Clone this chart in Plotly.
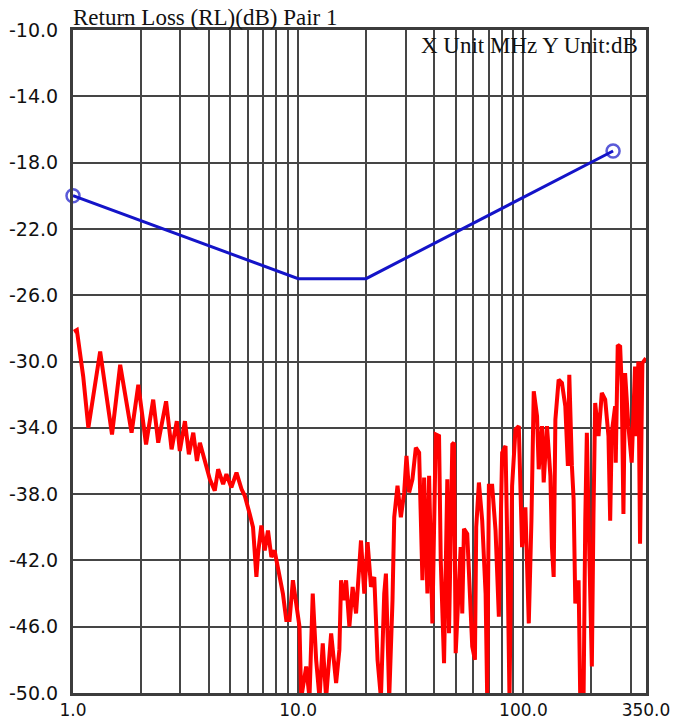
import plotly.graph_objects as go

# ---- data ----
limit_freq = [1.0, 10.0, 20.0, 250.0]
limit_db = [-20.0, -25.0, -25.0, -17.3]

red_freq = [
    1.01, 1.04, 1.11, 1.17, 1.32, 1.49, 1.62, 1.82, 1.95, 2.11,
    2.27, 2.39, 2.59, 2.74, 2.89, 2.98, 3.14, 3.27, 3.42, 3.55,
    3.66, 3.92, 4.05, 4.26, 4.41, 4.64, 4.80, 5.05, 5.32, 5.60,
    5.79, 6.09, 6.30, 6.52, 6.63, 6.86, 7.10, 7.34, 7.60, 7.85,
    8.12, 8.55, 8.85, 9.15, 9.47, 9.80, 10.13, 10.31, 10.85, 11.22,
    11.60, 12.01, 12.43, 12.85, 13.30, 14.00, 14.73, 15.23, 15.50, 16.03,
    16.31, 16.87, 17.44, 18.06, 19.00, 19.65, 20.32, 21.04, 21.76, 22.50,
    23.29, 24.09, 24.51, 25.35, 26.22, 26.68, 27.59, 28.56, 29.54, 30.24,
    31.08, 32.15, 33.28, 34.42, 35.60, 36.22, 37.46, 38.11, 39.41, 40.80,
    42.19, 42.93, 44.40, 45.91, 46.72, 48.32, 49.16, 50.02, 52.63, 53.49,
    54.43, 56.29, 57.28, 59.24, 60.89, 61.70, 63.42, 65.59, 67.91, 69.02,
    70.24, 72.62, 75.18, 77.76, 80.42, 83.26, 84.61, 86.70, 89.04, 92.18,
    95.33, 98.58, 102.0, 105.6, 108.5, 111.1, 114.9, 116.9, 120.9, 123.0,
    127.2, 131.7, 133.8, 136.2, 138.6, 143.3, 148.2, 153.4, 157.5, 159.8,
    164.1, 167.0, 169.9, 175.7, 178.7, 184.9, 188.1, 191.2, 194.5, 201.2,
    204.6, 208.2, 215.4, 222.8, 230.6, 238.5, 242.7, 246.6, 255.3, 256.9,
    262.2, 268.7, 273.1, 277.9, 282.7, 292.4, 302.4, 313.0, 318.2, 323.7,
    329.4, 337.3, 350.0,
]
red_db = [
    -28.2, -28.1, -30.9, -34.0, -29.4, -34.4, -30.2, -34.3, -31.4, -35.0,
    -32.3, -34.9, -32.4, -35.3, -33.6, -35.4, -33.6, -35.6, -34.3, -36.0,
    -34.9, -36.3, -37.1, -37.8, -36.5, -37.4, -36.8, -37.6, -36.7, -37.7,
    -38.1, -39.2, -40.0, -43.0, -41.6, -39.9, -41.4, -40.2, -41.8, -41.4,
    -42.4, -44.0, -45.6, -45.6, -43.2, -44.6, -46.0, -50.3, -48.4, -50.3,
    -44.0, -48.0, -50.3, -47.0, -50.3, -46.4, -49.4, -47.4, -43.2, -44.4,
    -43.2, -46.0, -43.6, -45.2, -40.8, -44.0, -40.9, -43.6, -43.0, -48.0,
    -50.3, -44.0, -42.8, -50.3, -44.4, -39.4, -37.5, -39.4, -37.9, -35.7,
    -37.9, -37.1, -35.2, -35.5, -43.2, -37.0, -44.0, -36.9, -45.8, -34.4,
    -34.5, -42.0, -48.2, -37.1, -46.4, -35.0, -34.9, -47.6, -41.2, -45.2,
    -40.1, -40.4, -43.0, -47.2, -48.0, -40.0, -37.3, -39.6, -44.0, -50.3,
    -37.5, -37.5, -40.2, -45.4, -35.5, -35.1, -40.4, -50.3, -37.5, -34.1,
    -33.9, -41.2, -38.8, -45.8, -39.6, -31.8, -33.3, -36.5, -33.9, -37.3,
    -33.9, -36.9, -41.2, -43.0, -33.5, -31.1, -31.3, -32.7, -36.3, -30.8,
    -36.3, -38.3, -44.6, -43.2, -50.3, -50.3, -39.6, -34.3, -39.4, -48.4,
    -39.2, -32.5, -34.5, -31.9, -32.3, -34.5, -39.6, -34.3, -32.7, -36.1,
    -29.0, -29.1, -31.5, -39.2, -30.7, -33.9, -36.1, -30.3, -34.5, -30.0,
    -41.0, -30.1, -29.8,
]
assert len(red_freq) == len(red_db)

x_grid_vals = [1, 2, 3, 4, 5, 6, 7, 8, 9, 10, 20, 30, 40, 50, 60, 70, 80, 90, 100, 200, 300, 350]
x_labels = {1: "1.0", 10: "10.0", 100: "100.0", 350: "350.0"}
y_tick_vals = [-10, -14, -18, -22, -26, -30, -34, -38, -42, -46, -50]
y_tick_text = ["-10.0", "-14.0", "-18.0", "-22.0", "-26.0", "-30.0", "-34.0",
               "-38.0", "-42.0", "-46.0", "-50.0"]

title_text = "Return Loss (RL)(dB) Pair 1"
unit_text = "X Unit MHz Y Unit:dB"

# ---- figure ----
fig = go.Figure()

fig.add_trace(go.Scatter(
    x=red_freq, y=red_db, mode="lines",
    line=dict(color="#ff0000", width=4),
    showlegend=False, hoverinfo="skip",
))
fig.add_trace(go.Scatter(
    x=limit_freq, y=limit_db, mode="lines+markers",
    line=dict(color="#1414c8", width=3),
    marker=dict(symbol="circle-open", size=[13, 0, 0, 13],
                color="#1414c8", line=dict(width=2.5, color="#1414c8")),
    cliponaxis=False,
    showlegend=False, hoverinfo="skip",
))

grid_color = "#454545"
fig.update_xaxes(
    type="log", range=[0, 2.5441], automargin=False,
    tickvals=x_grid_vals,
    ticktext=[x_labels.get(v, "") for v in x_grid_vals],
    showgrid=True, gridcolor=grid_color, gridwidth=2,
    showline=True, linecolor="#3c3c3c", linewidth=3, mirror=True,
    ticks="", ticklabelstandoff=0,
    tickfont=dict(family="DejaVu Sans", size=17, color="#111111"),
    zeroline=False,
)
fig.update_yaxes(
    range=[-50, -10], automargin=False,
    tickvals=y_tick_vals, ticktext=y_tick_text,
    showgrid=True, gridcolor=grid_color, gridwidth=2,
    showline=True, linecolor="#3c3c3c", linewidth=3, mirror=True,
    ticks="", ticklabelstandoff=8,
    tickfont=dict(family="DejaVu Sans", size=19, color="#111111"),
    zeroline=False,
)

fig.add_annotation(
    text=title_text, xref="paper", yref="paper", x=0, y=1,
    xanchor="left", yanchor="bottom", showarrow=False,
    font=dict(family="Liberation Serif", size=23, color="#111111"),
    xshift=-2, yshift=-2,
)
fig.add_annotation(
    text=unit_text, xref="paper", yref="paper", x=1, y=1,
    xanchor="right", yanchor="top", showarrow=False,
    font=dict(family="Liberation Serif", size=23, color="#111111"),
    xshift=-6, yshift=-1,
)

fig.update_layout(
    width=674, height=722,
    margin=dict(l=73, r=28, t=30, b=29, autoexpand=False),
    paper_bgcolor="white", plot_bgcolor="white",
    showlegend=False,
)

fig.write_html("out.html")
